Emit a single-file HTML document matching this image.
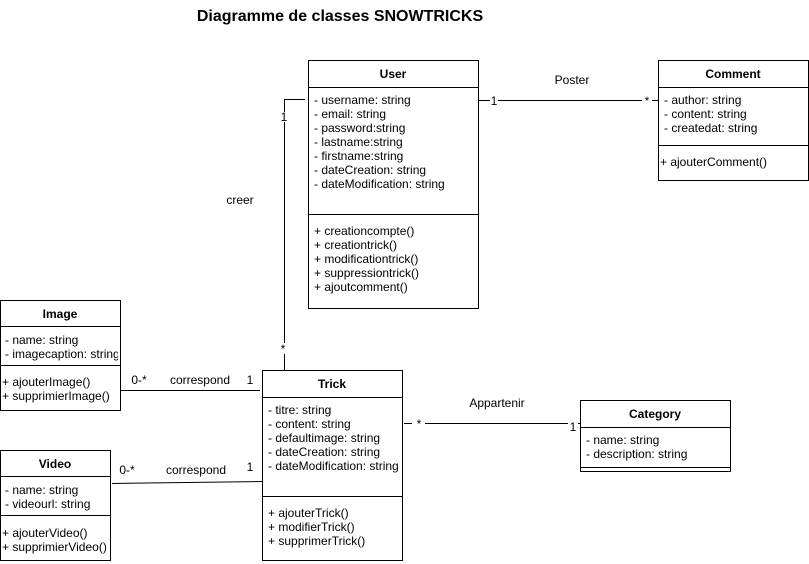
<!DOCTYPE html>
<html><head><meta charset="utf-8"><style>
html,body{margin:0;padding:0;background:#fff;}
svg{display:block;font-family:"Liberation Sans",Arial,sans-serif;}
text{font-size:12px;fill:#000;}
.b{font-weight:bold;}
</style></head><body>
<svg width="809" height="564" viewBox="0 0 809 564" xmlns="http://www.w3.org/2000/svg">
<defs><clipPath id="ci"><rect x="0" y="330" width="118" height="40"/></clipPath></defs>
<rect width="809" height="564" fill="#fff"/>
<text x="340" y="21" text-anchor="middle" class="b" style="font-size:16px">Diagramme de classes SNOWTRICKS</text>
<g fill="none" stroke="#000" stroke-width="1">
<rect x="308.5" y="60.5" width="170" height="248"/>
<line x1="308" y1="87.5" x2="478" y2="87.5"/>
<line x1="308" y1="214.5" x2="478" y2="214.5"/>
<rect x="658.5" y="60.5" width="150" height="120"/>
<line x1="658" y1="87.5" x2="808" y2="87.5"/>
<line x1="658" y1="145.5" x2="808" y2="145.5"/>
<rect x="0.5" y="300.5" width="120" height="110"/>
<line x1="0" y1="326.5" x2="120" y2="326.5"/>
<line x1="0" y1="365.5" x2="120" y2="365.5"/>
<rect x="0.5" y="450.5" width="110" height="110"/>
<line x1="0" y1="476.5" x2="110" y2="476.5"/>
<line x1="0" y1="515.5" x2="110" y2="515.5"/>
<rect x="262.5" y="370.5" width="140" height="190"/>
<line x1="262" y1="397.5" x2="402" y2="397.5"/>
<line x1="262" y1="496.5" x2="402" y2="496.5"/>
<rect x="580.5" y="400.5" width="150" height="71"/>
<line x1="580" y1="427.5" x2="730" y2="427.5"/>
<line x1="580" y1="467.5" x2="730" y2="467.5"/>
<polyline points="305,99.5 284.5,99.5 284.5,112"/>
<line x1="284.5" y1="122" x2="284.5" y2="343"/>
<line x1="284.5" y1="354" x2="284.5" y2="370"/>
<line x1="478" y1="100.5" x2="490" y2="100.5"/>
<line x1="498" y1="100.5" x2="642" y2="100.5"/>
<line x1="652" y1="100.5" x2="658" y2="100.5"/>
<line x1="120" y1="390.5" x2="260" y2="390.5"/>
<line x1="112" y1="483.5" x2="262" y2="481.5"/>
<line x1="404" y1="423.5" x2="412" y2="423.5"/>
<line x1="425" y1="423.5" x2="568" y2="423.5"/>
<line x1="578" y1="423.5" x2="580" y2="423.5"/>
</g>
<text x="393" y="78" text-anchor="middle" class="b">User</text>
<text x="314" y="104">- username: string</text>
<text x="314" y="118">- email: string</text>
<text x="314" y="132">- password:string</text>
<text x="314" y="146">- lastname:string</text>
<text x="314" y="160">- firstname:string</text>
<text x="314" y="174">- dateCreation: string</text>
<text x="314" y="188">- dateModification: string</text>
<text x="314" y="235">+ creationcompte()</text>
<text x="314" y="249">+ creationtrick()</text>
<text x="314" y="263">+ modificationtrick()</text>
<text x="314" y="277">+ suppressiontrick()</text>
<text x="314" y="291">+ ajoutcomment()</text>

<text x="733" y="78" text-anchor="middle" class="b">Comment</text>
<text x="664" y="104">- author: string</text>
<text x="664" y="118">- content: string</text>
<text x="664" y="132">- createdat: string</text>
<text x="660" y="166">+ ajouterComment()</text>

<text x="60" y="318" text-anchor="middle" class="b">Image</text>
<text x="5" y="344">- name: string</text>
<text x="5" y="358" clip-path="url(#ci)">- imagecaption: string</text>
<text x="2" y="386">+ ajouterImage()</text>
<text x="2" y="400">+ supprimierImage()</text>

<text x="55" y="468" text-anchor="middle" class="b">Video</text>
<text x="5" y="494">- name: string</text>
<text x="5" y="508">- videourl: string</text>
<text x="2" y="537">+ ajouterVideo()</text>
<text x="2" y="551">+ supprimierVideo()</text>

<text x="332" y="388" text-anchor="middle" class="b">Trick</text>
<text x="268" y="414">- titre: string</text>
<text x="268" y="428">- content: string</text>
<text x="268" y="442">- defaultimage: string</text>
<text x="268" y="456">- dateCreation: string</text>
<text x="268" y="470">- dateModification: string</text>
<text x="268" y="517">+ ajouterTrick()</text>
<text x="268" y="531">+ modifierTrick()</text>
<text x="268" y="545">+ supprimerTrick()</text>

<text x="655" y="418" text-anchor="middle" class="b">Category</text>
<text x="586" y="444">- name: string</text>
<text x="586" y="458">- description: string</text>

<text x="572" y="84" text-anchor="middle">Poster</text>
<text x="494" y="105" text-anchor="middle">1</text>
<text x="647" y="105" text-anchor="middle">*</text>
<text x="240" y="204" text-anchor="middle">creer</text>
<text x="284" y="121" text-anchor="middle">1</text>
<text x="283" y="353" text-anchor="middle">*</text>
<text x="139" y="384" text-anchor="middle">0-*</text>
<text x="200" y="384" text-anchor="middle">correspond</text>
<text x="250" y="384" text-anchor="middle">1</text>
<text x="127" y="474" text-anchor="middle">0-*</text>
<text x="196" y="474" text-anchor="middle">correspond</text>
<text x="250" y="471" text-anchor="middle">1</text>
<text x="497" y="407" text-anchor="middle">Appartenir</text>
<text x="419" y="428" text-anchor="middle">*</text>
<text x="573" y="431" text-anchor="middle">1</text>
</svg>
</body></html>
